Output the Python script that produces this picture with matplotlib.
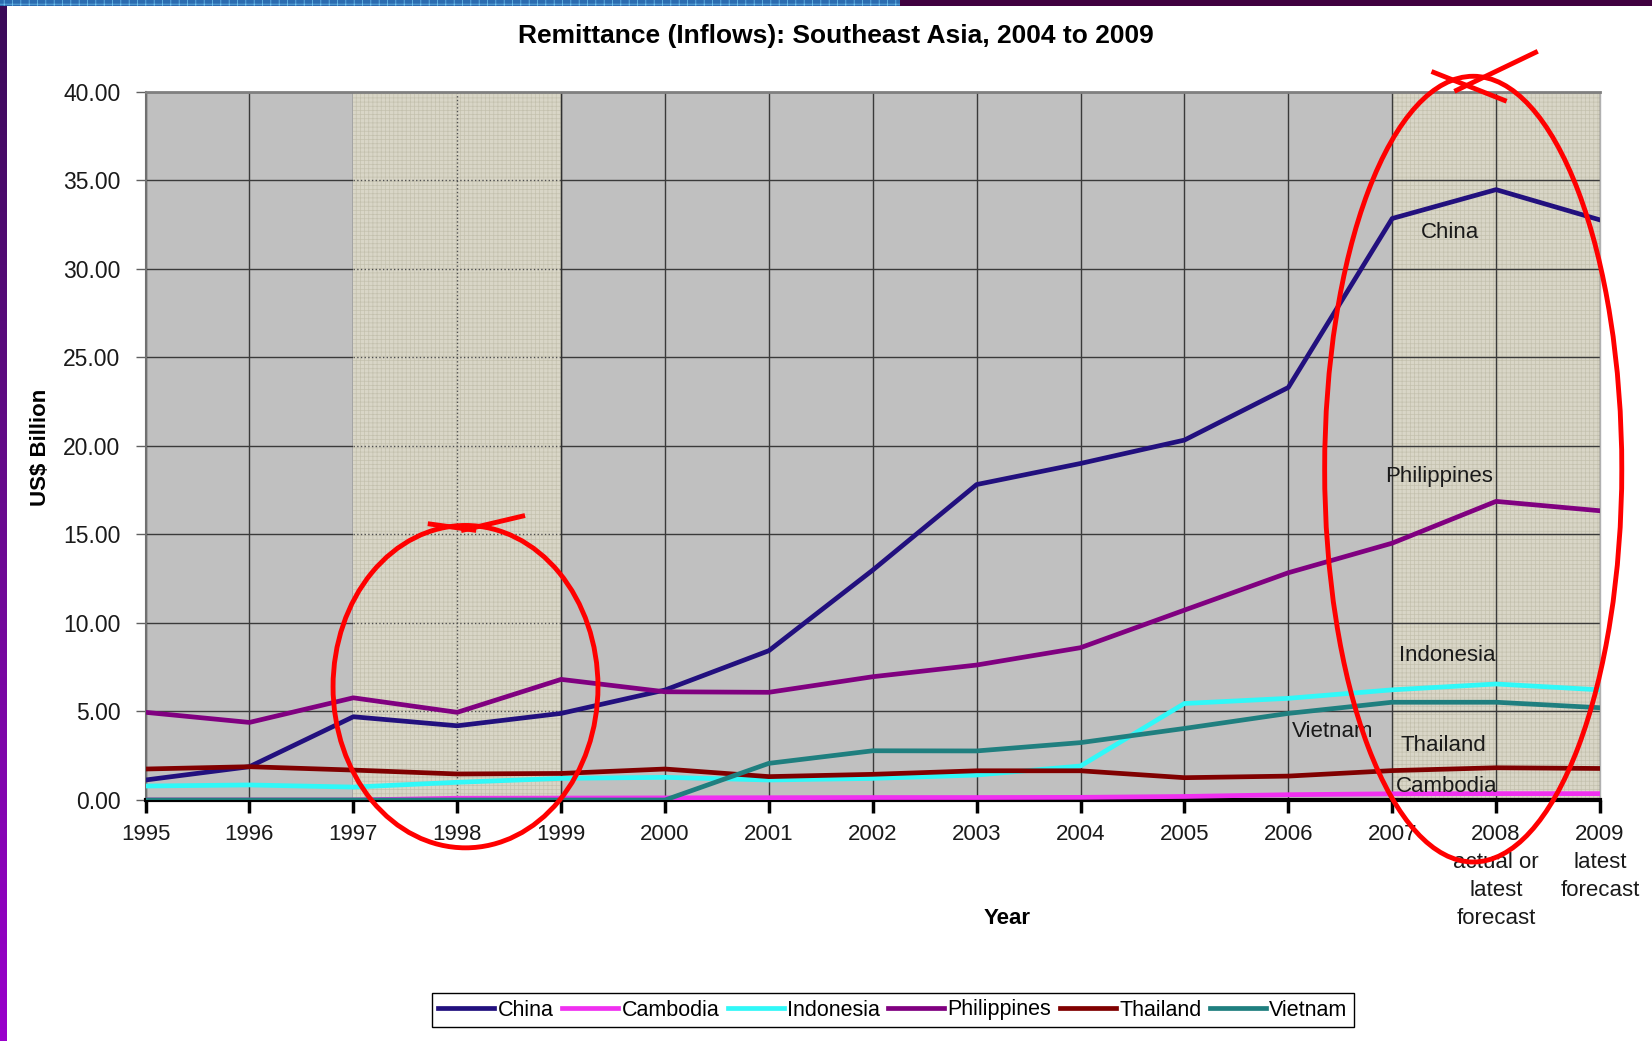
import matplotlib.pyplot as plt
import numpy as np
from matplotlib.patches import Ellipse, Rectangle
from matplotlib.colors import LinearSegmentedColormap

plt.rcParams['font.family'] = ['Liberation Sans', 'DejaVu Sans']
plt.rcParams['hatch.linewidth'] = 0.5

# data (US$ billion)
years = [1995, 1996, 1997, 1998, 1999, 2000, 2001, 2002, 2003, 2004, 2005, 2006, 2007, 2008, 2009]
china = [1.13, 1.88, 4.70, 4.19, 4.89, 6.21, 8.43, 12.98, 17.81, 19.00, 20.32, 23.29, 32.83, 34.46, 32.75]
cambodia = [0.0, 0.0, 0.0, 0.10, 0.11, 0.12, 0.13, 0.14, 0.14, 0.15, 0.20, 0.30, 0.35, 0.36, 0.36]
indonesia = [0.79, 0.85, 0.73, 1.00, 1.22, 1.28, 1.13, 1.22, 1.41, 1.92, 5.45, 5.74, 6.22, 6.55, 6.22]
philippines = [4.95, 4.38, 5.77, 4.95, 6.81, 6.11, 6.08, 6.96, 7.62, 8.60, 10.72, 12.83, 14.50, 16.86, 16.33]
thailand = [1.75, 1.88, 1.69, 1.47, 1.50, 1.75, 1.32, 1.45, 1.65, 1.65, 1.26, 1.35, 1.66, 1.82, 1.78]
vietnam = [0.0, 0.0, 0.0, 0.0, 0.0, 0.0, 2.07, 2.78, 2.77, 3.24, 4.04, 4.89, 5.52, 5.52, 5.21]

names = ['China', 'Cambodia', 'Indonesia', 'Philippines', 'Thailand', 'Vietnam']
colors = ['#22107e', '#f030f0', '#30f8f8', '#800080', '#800000', '#1f7f7f']
series = [china, cambodia, indonesia, philippines, thailand, vietnam]

xlabels = ['1995', '1996', '1997', '1998', '1999', '2000', '2001', '2002', '2003',
           '2004', '2005', '2006', '2007', '2008\nactual or\nlatest\nforecast',
           '2009\nlatest\nforecast']

# where the series names are written inside the plot
label_x = [2007.56, 2007.52, 2007.53, 2007.45, 2007.49, 2006.43]
label_y = [32.05, 0.79, 8.17, 18.28, 3.05, 3.89]

fig = plt.figure(figsize=(16.52, 10.41), dpi=100)
ax = fig.add_axes([0.0881, 0.2315, 0.8804, 0.6806])
ax.set_facecolor('#c0c0c0')

# shaded periods
ax.axvspan(2007, 2009, facecolor='#d9d6c7', hatch='++++', edgecolor='#c4c1ae', lw=0, zorder=0.3)
ax.axvspan(1997, 1999, facecolor='#d9d6c7', hatch='++++', edgecolor='#c4c1ae', lw=0, zorder=0.6)
yt = np.arange(0, 41, 5)
ax.hlines(yt[1:], 1997, 1999, colors='#505050', linestyles=':', lw=1, zorder=0.7)
ax.vlines(1998, 0, 40, colors='#505050', linestyles=':', lw=1, zorder=0.7)
ax.vlines(1999, 0, 40, colors='#303030', lw=1, zorder=0.7)

ax.set_axisbelow(True)
ax.grid(True, color='#3a3a3a', lw=1.0)

for name, col, vals in zip(names, colors, series):
    ax.plot(years, vals, color=col, lw=3.4, label=name, zorder=3)

for name, x, y in zip(names, label_x, label_y):
    ax.text(x, y, name, ha='center', va='center', fontsize=16, color='#1a1a1a', zorder=4)

ax.set_xlim(1995, 2009)
ax.set_ylim(0, 40)
ax.set_xticks(years)
ax.set_xticklabels(xlabels, linespacing=1.45)
ax.set_yticks(yt)
ax.set_yticklabels(['%.2f' % v for v in yt])
ax.tick_params(axis='x', length=9, width=2.5, color='black', pad=8, labelsize=16, labelcolor='#1a1a1a')
ax.tick_params(axis='y', length=7, width=1, color='#606060', pad=11, labelsize=16.5, labelcolor='#1a1a1a')

ax.spines['bottom'].set_color('black')
ax.spines['bottom'].set_linewidth(3)
ax.spines['left'].set_color('#707070')
ax.spines['left'].set_linewidth(1.5)
ax.spines['top'].set_color('#808080')
ax.spines['top'].set_linewidth(2)
ax.spines['right'].set_color('#b0b0b0')
ax.spines['right'].set_linewidth(1)

fig.text(836 / 1652, 1 - 36 / 1041, 'Remittance (Inflows): Southeast Asia, 2004 to 2009',
         ha='center', va='center', fontsize=19, fontweight='bold')
fig.text(40 / 1652, 1 - 447 / 1041, 'US$ Billion', rotation=90, ha='center', va='center',
         fontsize=16, fontweight='bold')
fig.text(1007 / 1652, 1 - 919 / 1041, 'Year', ha='center', va='center', fontsize=16, fontweight='bold')

leg = ax.legend(loc='center', bbox_to_anchor=(893 / 1652, 1 - 1010 / 1041),
                bbox_transform=fig.transFigure, ncol=6, fancybox=False, edgecolor='black',
                fontsize=15.5, handlelength=2.6, handletextpad=0.15, columnspacing=0.4,
                borderpad=0.3, framealpha=1)
leg.get_frame().set_linewidth(1)

# red hand-drawn circles
ax.add_patch(Ellipse((1998.08, 6.4), 2.55, 18.2, fill=False, ec='red', lw=3.5, clip_on=False, zorder=10))
ax.add_patch(Ellipse((2007.78, 18.68), 2.86, 44.36, fill=False, ec='red', lw=3.5, clip_on=False, zorder=10))
ax.plot([1997.74, 1998.16], [15.58, 15.24], color='red', lw=3.5, clip_on=False, zorder=10)
ax.plot([1998.06, 1998.63], [15.24, 16.03], color='red', lw=3.5, clip_on=False, zorder=10)
ax.plot([2007.40, 2008.08], [41.08, 39.50], color='red', lw=3.5, clip_on=False, zorder=10)
ax.plot([2008.38, 2007.62], [42.21, 40.07], color='red', lw=3.5, clip_on=False, zorder=10)

# slide frame: top strip and left gradient strip
fig.patches.append(Rectangle((0, 1 - 6 / 1041), 1, 6 / 1041, facecolor='#40003f', lw=0,
                             transform=fig.transFigure, figure=fig))
fig.patches.append(Rectangle((0, 1 - 6 / 1041), 900 / 1652, 6 / 1041, facecolor='#2b6cb0',
                             hatch='++', edgecolor='#6fc3ef', lw=0, transform=fig.transFigure, figure=fig))
side = fig.add_axes([0, 0, 7 / 1652, 1 - 6 / 1041])
cmap = LinearSegmentedColormap.from_list('side', ['#3a0a58', '#6a0a90', '#9a00cc'])
side.imshow(np.linspace(0, 1, 256).reshape(-1, 1), aspect='auto', cmap=cmap)
side.axis('off')

fig.savefig('out.png', dpi=100)
